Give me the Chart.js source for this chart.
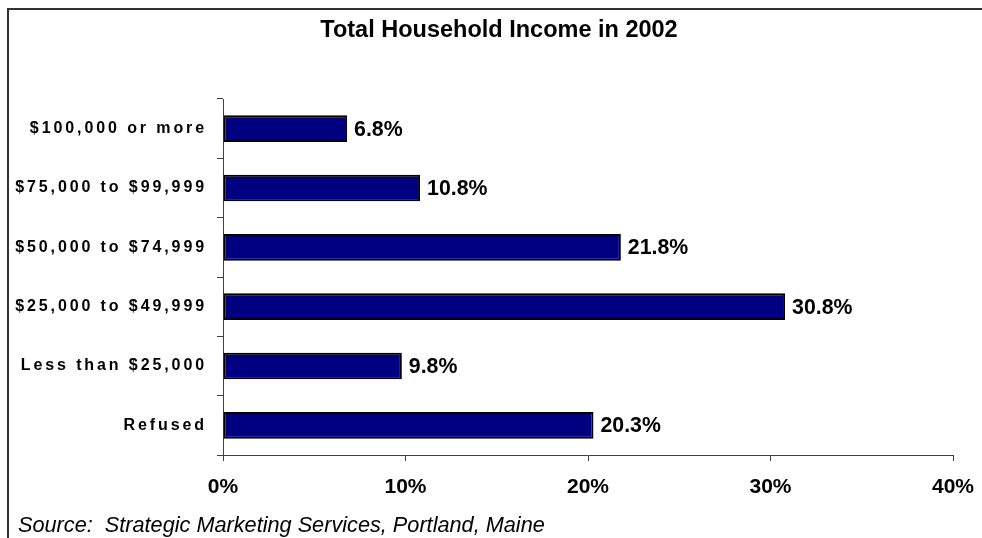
<!DOCTYPE html>
<html>
<head>
<meta charset="utf-8">
<title>Total Household Income in 2002</title>
<script src="https://cdn.jsdelivr.net/npm/chart.js@4.4.1/dist/chart.umd.min.js"></script>
<style>
  html, body { margin: 0; padding: 0; background: #fff; }
  #incomeChart { display: block; }
</style>
</head>
<body>
<canvas id="incomeChart" width="982" height="538"></canvas>
<script>
const chartTitle = "Total Household Income in 2002";
const sourceText = "Source:  Strategic Marketing Services, Portland, Maine";
const incomeBrackets = [
  "$100,000 or more",
  "$75,000 to $99,999",
  "$50,000 to $74,999",
  "$25,000 to $49,999",
  "Less than $25,000",
  "Refused",
];
const sharePercent = [6.8, 10.8, 21.8, 30.8, 9.8, 20.3];
const axisTicks = [0, 10, 20, 30, 40];

const FONT = "'Liberation Sans', Arial, sans-serif";
const AXIS_COLOR = "#404040";

// left + top frame of the chart box
const framePlugin = {
  id: "frame",
  beforeDraw(chart) {
    const ctx = chart.ctx;
    ctx.save();
    ctx.strokeStyle = "#333";
    ctx.lineWidth = 2;
    ctx.beginPath();
    ctx.moveTo(8, chart.height);
    ctx.lineTo(8, 9);
    ctx.lineTo(chart.width, 9);
    ctx.stroke();
    ctx.restore();
  },
};

// category names are drawn with wide letter spacing
const spacedLabels = {
  id: "spacedLabels",
  beforeDraw(chart) {
    const scale = chart.scales.y;
    if (!scale || scale._spaced) return;
    const orig = scale.drawLabels;
    scale.drawLabels = function (area) {
      const ctx = this.ctx;
      ctx.save();
      ctx.letterSpacing = "2.9px";
      orig.call(this, area);
      ctx.letterSpacing = "0px";
      ctx.restore();
    };
    scale._spaced = true;
  },
};

// percentage next to the end of each bar
const valueLabels = {
  id: "valueLabels",
  afterDatasetsDraw(chart) {
    const ctx = chart.ctx;
    const meta = chart.getDatasetMeta(0);
    ctx.save();
    ctx.font = "bold 21.3px " + FONT;
    ctx.fillStyle = "#000";
    ctx.textAlign = "left";
    ctx.textBaseline = "middle";
    meta.data.forEach((bar, i) => {
      ctx.fillText(sharePercent[i].toFixed(1) + "%", bar.x + 7, bar.y + 1);
    });
    ctx.restore();
  },
};

// heading on top, source note along the bottom
const captions = {
  id: "captions",
  afterDraw(chart) {
    const ctx = chart.ctx;
    ctx.save();
    ctx.fillStyle = "#000";
    ctx.textBaseline = "middle";
    ctx.textAlign = "center";
    ctx.font = "bold 23.5px " + FONT;
    ctx.fillText(chartTitle, 499, 31);
    ctx.textAlign = "left";
    ctx.font = "italic 21.7px " + FONT;
    ctx.fillText(sourceText, 18, 526);
    ctx.restore();
  },
};

const ctx = document.getElementById("incomeChart").getContext("2d");

new Chart(ctx, {
  type: "bar",
  data: {
    labels: incomeBrackets,
    datasets: [
      {
        data: sharePercent,
        backgroundColor: "#000080",
        borderColor: "#000",
        borderWidth: 2,
        borderSkipped: false,
        barPercentage: 0.9,
        categoryPercentage: 0.5,
      },
    ],
  },
  options: {
    indexAxis: "y",
    responsive: false,
    animation: false,
    layout: {
      padding: { left: 0, right: 29, top: 99, bottom: 25 },
    },
    plugins: {
      legend: { display: false },
      tooltip: { enabled: false },
    },
    scales: {
      x: {
        min: 0,
        max: 40,
        afterBuildTicks: (scale) => {
          scale.ticks = axisTicks.map((v) => ({ value: v }));
        },
        afterFit: (scale) => {
          scale.height = 58;
          scale.paddingLeft = 0;
          scale.paddingRight = 0;
        },
        grid: {
          drawOnChartArea: false,
          drawTicks: true,
          tickLength: 6,
          color: AXIS_COLOR,
        },
        border: { display: true, color: AXIS_COLOR, width: 1 },
        ticks: {
          padding: 14,
          color: "#000",
          font: { family: FONT, size: 21, weight: "bold" },
          maxRotation: 0,
          callback: (v) => v + "%",
        },
      },
      y: {
        afterFit: (scale) => {
          scale.width = 223;
        },
        grid: {
          offset: true,
          drawOnChartArea: false,
          drawTicks: true,
          tickLength: 6,
          color: AXIS_COLOR,
        },
        border: { display: true, color: AXIS_COLOR, width: 1 },
        ticks: {
          padding: 10,
          color: "#000",
          font: { family: FONT, size: 16, weight: "bold" },
        },
      },
    },
  },
  plugins: [framePlugin, spacedLabels, valueLabels, captions],
});
</script>
</body>
</html>
